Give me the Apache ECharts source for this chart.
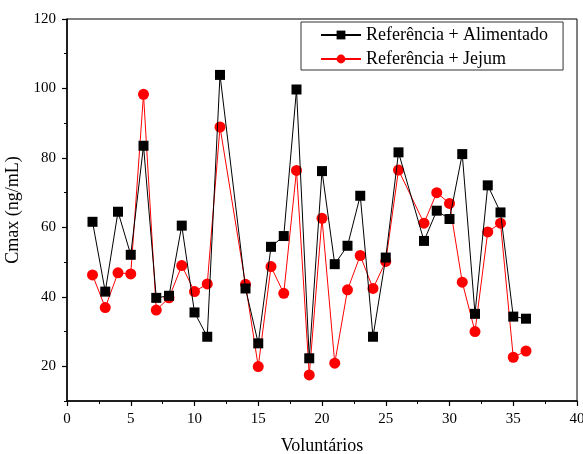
<!DOCTYPE html>
<html><head><meta charset="utf-8">
<script src="https://cdn.jsdelivr.net/npm/echarts@6/dist/echarts.min.js"></script>
<style>html,body{margin:0;padding:0;background:#fff}#c{width:583px;height:454px}</style>
</head><body><div id="c"></div>
<script>
const voluntarios = [2,3,4,5,6,7,8,9,10,11,12,14,15,16,17,18,19,20,21,22,23,24,25,26,28,29,30,31,32,33,34,35,36];
const alimentado = [61.6,41.5,64.5,52.1,83.5,39.7,40.3,60.5,35.5,28.5,103.9,42.4,26.6,54.4,57.5,99.7,22.3,76.2,49.4,54.7,69.1,28.5,51.3,81.6,56.1,64.8,62.4,81.1,35.1,72.1,64.3,34.3,33.7];
const jejum = [46.3,36.9,46.9,46.6,98.3,36.2,39.7,49.0,41.5,43.7,88.9,43.6,19.9,48.7,41.0,76.4,17.5,62.6,20.9,42.0,51.9,42.4,50.2,76.5,61.2,70.0,66.9,44.2,30.0,58.7,61.2,22.6,24.4];
const yMajorTicks = [20,40,60,80,100,120];
const yMinorTicks = [10,30,50,70,90,110];
const seriesNames = ['Referência + Alimentado','Referência + Jejum'];
const xTitle = 'Voluntários';
const yTitle = 'Cmax (ng/mL)';

const font = 'Liberation Serif';
const chart = echarts.init(document.getElementById('c'), null, {renderer:'canvas'});
const pair = (xs, ys) => xs.map((x,i)=>[x, ys[i]]);
chart.setOption({
  animation:false,
  textStyle:{fontFamily:font},
  grid:{left:67,right:6,top:19,bottom:53,show:true,borderColor:'#000',borderWidth:1,outerBoundsMode:'none',containLabel:false},
  legend:{
    left:301, top:22, orient:'vertical', padding:[4,15,2,19],
    itemWidth:40, itemHeight:11, itemGap:6,
    borderColor:'#333', borderWidth:1,
    textStyle:{fontFamily:font,fontSize:18,color:'#000'},
    data:seriesNames
  },
  xAxis:{
    type:'value', min:0, max:40, interval:5,
    name:xTitle, nameLocation:'middle', nameGap:36,
    nameTextStyle:{fontFamily:font,fontSize:18,color:'#000'},
    axisLine:{lineStyle:{color:'#000',width:1.5}},
    axisTick:{length:5,lineStyle:{color:'#000',width:1.2}},
    minorTick:{show:true,splitNumber:2,length:3,lineStyle:{color:'#000',width:1}},
    axisLabel:{fontFamily:font,fontSize:15,color:'#000',margin:11,hideOverlap:false},
    splitLine:{show:false}
  },
  yAxis:[{
    type:'value', min:10, max:120, interval:10,
    name:yTitle, nameLocation:'middle', nameGap:32,
    nameTextStyle:{fontFamily:font,fontSize:18,color:'#000'},
    axisLine:{lineStyle:{color:'#000',width:1.5}},
    axisTick:{length:5,customValues:yMajorTicks,lineStyle:{color:'#000',width:1.2}},
    axisLabel:{fontFamily:font,fontSize:15,color:'#000',margin:11,customValues:yMajorTicks},
    splitLine:{show:false}
  },{
    type:'value', min:10, max:120, interval:10, position:'left',
    axisLine:{show:false},
    axisTick:{length:3,customValues:yMinorTicks,lineStyle:{color:'#000',width:1}},
    axisLabel:{show:false},
    splitLine:{show:false}
  }],
  series:[{
    name:seriesNames[0], type:'line', data:pair(voluntarios, alimentado),
    symbol:'rect', symbolSize:10,
    itemStyle:{color:'#000'}, lineStyle:{color:'#000',width:1}, z:3
  },{
    name:seriesNames[1], type:'line', data:pair(voluntarios, jejum),
    symbol:'circle', symbolSize:11,
    itemStyle:{color:'#ff0000'}, lineStyle:{color:'#ff0000',width:1}, z:2
  }]
});
</script></body></html>
